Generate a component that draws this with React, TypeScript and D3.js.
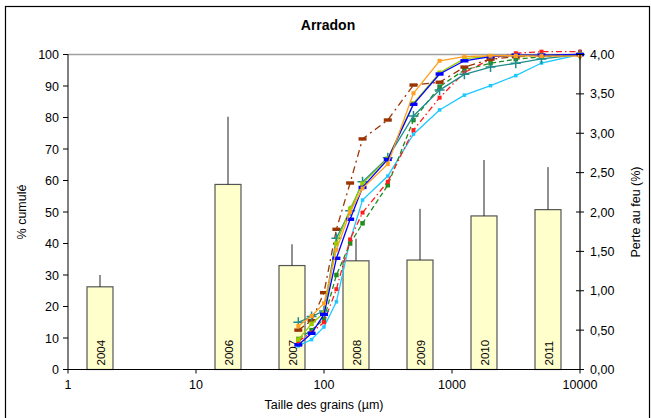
import React from 'react';
import * as d3 from 'd3';

// Sieve sizes (µm)
const sieves = [63, 80, 100, 125, 160, 200, 315, 500, 800, 1250, 2000, 3150, 5000, 10000];

// Cumulative % per campaign curve
const orangeSeries = [13.8, 17, 21, 38, 50, 57.5, 65.2, 87.7, 98, 99.3, 99.6, 99.6, 99.5, 99.5];
const blueSeries = [7.8, 11.5, 17.5, 35.3, 47.7, 57.8, 66.7, 84.2, 93.8, 98, 99.3, 99.8, 99.8, 100];
const yellowGreenSeries = [9.5, 14.5, 18, 40, 51, 59, 67, 84.5, 94.2, 98.7, 99.4, 99.6, 99.8, 100];
const tealSeries = [15, 16.8, 18.6, 41.7, 50.4, 59.6, 67.2, 80.5, 88.7, 93.7, 96, 97.2, 98.6, 100];
const brownSeries = [12.5, 15.5, 24.4, 44.5, 59.2, 73.2, 79.2, 90.3, 91.2, 96, 98.5, 99.3, 99.7, 100];
const redSeries = [9, 11.7, 15, 25.5, 41.3, 49.8, 59.6, 76, 86.3, 94.3, 98.5, 100.4, 100.9, 100.9];
const greenSeries = [9.7, 12.5, 16, 30, 40, 46.4, 58.5, 79.2, 89.8, 95.1, 97.2, 98.5, 99.3, 100];
const cyanSeries = [7.5, 9.5, 13.5, 21.5, 41, 53.8, 61.4, 74.7, 82.4, 87.1, 90.1, 93.3, 97.3, 100];

// Loss on ignition bars
const years = ['2004', '2005', '2006', '2007', '2008', '2009', '2010', '2011'];
const lossValues: (number | null)[] = [1.05, null, 2.35, 1.32, 1.38, 1.39, 1.95, 2.03];
const lossErrors: (number | null)[] = [0.15, null, 0.86, 0.27, 0.28, 0.65, 0.71, 0.54];

const leftTicks = [0, 10, 20, 30, 40, 50, 60, 70, 80, 90, 100];
const rightTicks = [0, 0.5, 1, 1.5, 2, 2.5, 3, 3.5, 4];
const xTicks = [1, 10, 100, 1000, 10000];

type Marker = 'square' | 'dash' | 'plus' | 'small';
const series: { values: number[]; color: string; dash: string | null; marker: Marker; ms: number }[] = [
  { values: cyanSeries, color: '#1EC8FF', dash: null, marker: 'small', ms: 3.5 },
  { values: greenSeries, color: '#1E8C1E', dash: '5,3', marker: 'square', ms: 4.5 },
  { values: redSeries, color: '#FF1E1E', dash: '6,3,1.5,3', marker: 'square', ms: 4 },
  { values: brownSeries, color: '#993300', dash: '7,4,2,4', marker: 'dash', ms: 4 },
  { values: tealSeries, color: '#1E8C8C', dash: null, marker: 'plus', ms: 5 },
  { values: yellowGreenSeries, color: '#99CC00', dash: null, marker: 'square', ms: 4.5 },
  { values: blueSeries, color: '#0000FF', dash: null, marker: 'dash', ms: 4 },
  { values: orangeSeries, color: '#FFA020', dash: null, marker: 'small', ms: 4 },
];

const W = 651;
const H = 418;
const L = 68;
const R = 580;
const T = 54.5;
const B = 369.5;

export default function App() {
  const x = d3.scaleLog().domain([1, 10000]).range([L, R]);
  const y = d3.scaleLinear().domain([0, 100]).range([B, T]);
  const y2 = d3.scaleLinear().domain([0, 4]).range([B, T]);
  const xb = d3.scaleBand().domain(years).range([L, R]).paddingInner(0.594).paddingOuter(0.297);
  const line = d3
    .line<number>()
    .x((_, i) => x(sieves[i]))
    .y((d) => y(d));
  const font = 'Liberation Sans, Arial, sans-serif';

  const drawMarker = (s: (typeof series)[number], cx: number, cy: number, k: number) => {
    const m = s.ms;
    if (s.marker === 'plus') {
      return (
        <path key={k} d={`M${cx - m},${cy}H${cx + m}M${cx},${cy - m}V${cy + m}`} stroke={s.color} strokeWidth={1.5} fill="none" />
      );
    }
    if (s.marker === 'dash') {
      return <rect key={k} x={cx - m} y={cy - 1.7} width={2 * m} height={3.4} fill={s.color} />;
    }
    return <rect key={k} x={cx - m / 2} y={cy - m / 2} width={m} height={m} fill={s.color} />;
  };

  return (
    <svg width={W} height={H} style={{ position: 'absolute', left: 0, top: 0 }} fontFamily={font}>
      <rect x={0} y={0} width={W} height={H} fill="#fff" />
      <rect x={5.5} y={6.5} width={644} height={430} fill="none" stroke="#000" strokeWidth={1.2} />
      <text x={328} y={30} textAnchor="middle" fontSize={14} fontWeight="bold">
        Arradon
      </text>

      {/* top gridline */}
      <line x1={L} x2={R} y1={y(100)} y2={y(100)} stroke="#a0a0a0" strokeWidth={1.6} />

      {/* bars */}
      {years.map((yr, i) => {
        const v = lossValues[i];
        if (v == null) return null;
        const bx = xb(yr)!;
        const bw = xb.bandwidth();
        const e = lossErrors[i] ?? 0;
        return (
          <g key={yr}>
            <rect x={bx} y={y2(v)} width={bw} height={B - y2(v)} fill="#FFFFCC" stroke="#555" strokeWidth={1.2} />
            <line x1={bx + bw / 2} x2={bx + bw / 2} y1={y2(v)} y2={y2(v + e)} stroke="#222" strokeWidth={1} />
            <text
              transform={`translate(${bx + bw / 2 + 4.5},${B - 4}) rotate(-90)`}
              fontSize={11.5}
              textAnchor="start"
              fill="#000"
            >
              {yr}
            </text>
          </g>
        );
      })}

      {/* curves */}
      {series.map((s, si) => (
        <g key={si}>
          <path d={line(s.values)!} fill="none" stroke={s.color} strokeWidth={1.3} strokeDasharray={s.dash ?? undefined} />
          {s.values.map((v, i) => drawMarker(s, x(sieves[i]), y(v), i))}
        </g>
      ))}

      {/* left axis */}
      <line x1={L} x2={L} y1={T} y2={B} stroke="#000" strokeWidth={1} />
      {leftTicks.map((t) => (
        <g key={t}>
          <line x1={L - 5} x2={L} y1={y(t)} y2={y(t)} stroke="#000" />
          <text x={L - 9} y={y(t) + 4.5} textAnchor="end" fontSize={12.5}>
            {t}
          </text>
        </g>
      ))}

      {/* right axis */}
      <line x1={R} x2={R} y1={T} y2={B} stroke="#000" strokeWidth={1.2} />
      {rightTicks.map((t) => (
        <g key={t}>
          <line x1={R - 4} x2={R + 4} y1={y2(t)} y2={y2(t)} stroke="#000" />
          <text x={R + 10} y={y2(t) + 4.5} textAnchor="start" fontSize={12.5}>
            {t.toFixed(2).replace('.', ',')}
          </text>
        </g>
      ))}

      {/* bottom axis */}
      <line x1={L} x2={R} y1={B} y2={B} stroke="#000" strokeWidth={1.2} />
      {xTicks.map((t) => (
        <g key={t}>
          <line x1={x(t)} x2={x(t)} y1={B} y2={B + 4} stroke="#000" />
          <text x={x(t)} y={B + 19} textAnchor="middle" fontSize={12.5}>
            {t}
          </text>
        </g>
      ))}

      <text x={324} y={409} textAnchor="middle" fontSize={12.5}>
        Taille des grains (µm)
      </text>
      <text transform={`translate(26,${(T + B) / 2}) rotate(-90)`} textAnchor="middle" fontSize={12.5}>
        % cumulé
      </text>
      <text transform={`translate(640,${(T + B) / 2}) rotate(-90)`} textAnchor="middle" fontSize={12.5}>
        Perte au feu (%)
      </text>
    </svg>
  );
}
